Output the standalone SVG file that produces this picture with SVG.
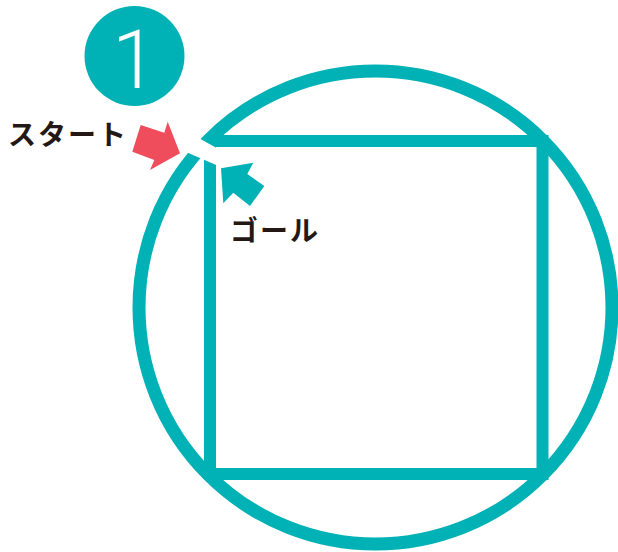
<svg xmlns="http://www.w3.org/2000/svg" width="618" height="552" viewBox="0 0 618 552">
  <style>
    .course { fill: none; stroke: #00b1b5; }
    .label { font-family: "Noto Sans CJK JP", "Noto Sans", sans-serif; font-weight: 700; font-size: 28px; fill: #231815; letter-spacing: 2px; }
    .num { font-family: Roboto, "Noto Sans", sans-serif; font-weight: 300; font-size: 81px; fill: #ffffff; }
  </style>
  <rect width="618" height="552" fill="#ffffff"/>
  <g id="course">
    <circle id="circle-path" class="course" cx="375.5" cy="307.5" r="236.5" stroke-width="13"/>
    <rect id="square-path" class="course" x="210" y="141" width="332.5" height="333" stroke-width="12"/>
    <polygon id="gap" fill="#ffffff" points="183,129.3 222,150.9 222,167.5 183,150.85"/>
  </g>
  <g id="badge">
    <circle cx="134.5" cy="56" r="50" fill="#00b1b5"/>
    <text class="num" x="134.5" y="87.5" text-anchor="middle">1</text>
  </g>
  <g id="connectors">
    <polygon id="start-arrow" fill="#ef4c5c" points="140.7,125 164.3,132.7 167.7,121.7 180,153.3 150,170 154.3,160 132.3,151.7"/>
    <polygon id="goal-arrow" fill="#00b1b5" points="221,168.3 253.3,162.7 247.3,174 264.3,186 250,206 233.3,192.7 223.3,203.3"/>
  </g>
  <g id="start-label">
    <text class="label" x="8" y="145">スタート</text>
  </g>
  <g id="goal-label">
    <text class="label" x="230" y="240.5">ゴール</text>
  </g>
</svg>
